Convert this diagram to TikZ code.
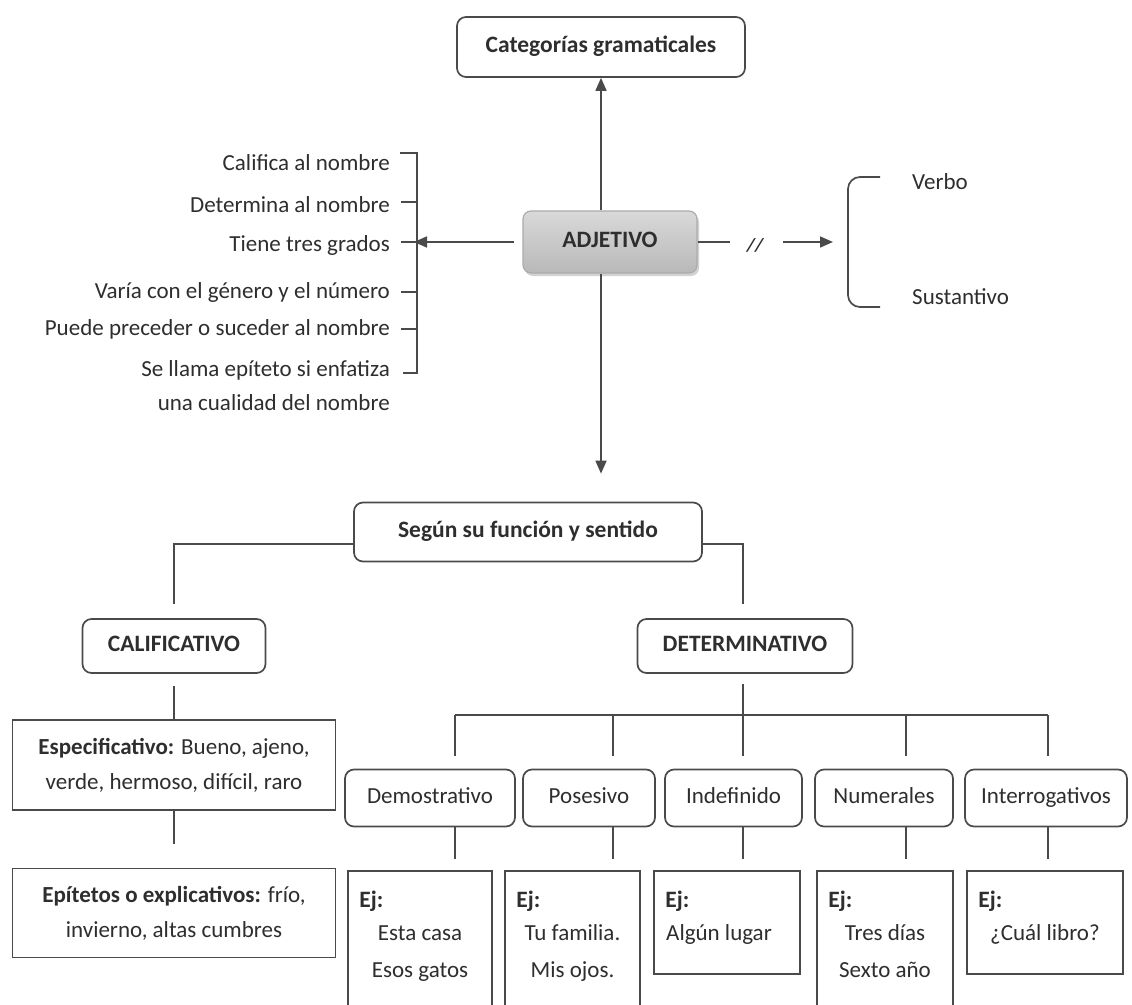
\documentclass[tikz,border=0pt]{standalone}
\usepackage{fontspec}
\setmainfont{Carlito}
\usetikzlibrary{arrows.meta,shadows,calc}
\definecolor{ln}{HTML}{4a4a4a}
\definecolor{tx}{HTML}{2e2e2e}
\tikzset{
  base/.style={text=tx, inner sep=0pt, text height=15pt, text depth=4pt, font=\fontsize{23}{27}\selectfont},
  rbox/.style={base, draw=ln, line width=1.7pt, rounded corners=9pt},
  sbox/.style={base, draw=ln, line width=1.7pt},
  con/.style={draw=ln, line width=1.7pt},
  arr/.style={con, -{Triangle[length=13pt,width=11pt]}},
  lt/.style={base},
  bt/.style={base, font=\fontsize{23.5}{27}\selectfont\bfseries},
  tb/.style={font=\fontsize{23.5}{27}\selectfont\bfseries},
}
\begin{document}
\begin{tikzpicture}[x=1pt,y=-1pt]
\useasboundingbox (0,0) rectangle (1132,1004);
\fill[white] (0,0) rectangle (1132,1004);
\begin{scope}
\clip (0,0) rectangle (1132,1004);

% top nodes
\node[rbox, tb, minimum width=288pt, minimum height=60pt] (cat) at (601,47) {Categorías gramaticales};
\node[base, tb, draw=gray!65, line width=1.2pt, rounded corners=8pt, minimum width=174pt, minimum height=62pt,
      top color=gray!30, middle color=gray!4, bottom color=gray!55,
      drop shadow={shadow xshift=2pt, shadow yshift=-3pt, opacity=0.35}] (adj) at (610,242) {ADJETIVO};
\node[rbox, tb, minimum width=348pt, minimum height=59pt] (seg) at (528,532) {Según su función y sentido};

% arrows up and down
\draw[arr] (adj.north -| cat.south) -- (cat.south);
\draw[arr, shorten >=28pt] (adj.south -| cat.south) -- (cat.south |- seg.north);

% left list
\node[lt, anchor=east] (l1) at (390,165) {Califica al nombre};
\node[lt, anchor=east] (l2) at (390,207) {Determina al nombre};
\node[lt, anchor=east] (l3) at (390,246) {Tiene tres grados};
\node[lt, anchor=east] (l4) at (390,293) {Varía con el género y el número};
\node[lt, anchor=east] (l5) at (390,330) {Puede preceder o suceder al nombre};
\node[lt, anchor=east] (l6) at (390,371) {Se llama epíteto si enfatiza};
\node[lt, anchor=east] (l7) at (390,405) {una cualidad del nombre};
\coordinate (lbt) at (417,153);
\coordinate (lbb) at (417,373);
\coordinate (lb) at (417,242);
\draw[con] (400,153) -- (lbt) -- (lbb) -- (403,373);
\draw[con] (401,202) -- (417,202);
\draw[con] (401,242) -- (lb);
\draw[con] (401,292) -- (417,292);
\draw[con] (401,329) -- (417,329);
\draw[arr, shorten <=8pt, shorten >=-3pt] (adj.west) -- (lb |- adj.west);

% right side
\node[base, font=\fontsize{19}{20}\selectfont\bfseries\itshape] (sl) at (755,246) {//};
\coordinate (rb) at (848,242);
\draw[con, shorten >=17pt] (adj.east) -- (sl.west |- adj.east);
\draw[arr, shorten <=20pt, shorten >=15pt] (sl.east |- adj.east) -- (rb |- adj.east);
\draw[con, rounded corners=12pt] (880,177) -- (848,177) -- (848,307) -- (880,307);
\node[lt, anchor=west] (verbo) at (912,184) {Verbo};
\node[lt, anchor=west] (sust) at (912,299) {Sustantivo};

% second level
\node[rbox, tb, minimum width=183pt, minimum height=54pt] (cal) at (174,646) {CALIFICATIVO};
\node[rbox, tb, minimum width=215pt, minimum height=54pt] (det) at (745,646) {DETERMINATIVO};
\draw[con] ([yshift=-12pt]seg.west) -| ([yshift=14pt]cal.north);
\draw[con] ([yshift=-12pt]seg.east) -| ([yshift=14pt,xshift=-2pt]det.north);

% calificativo branch
\node[sbox, minimum width=323pt, minimum height=90pt, align=center, text height=, text depth=, font=\fontsize{23}{35}\selectfont] (esp) at (174,765)
  {\textbf{Especificativo:} Bueno, ajeno,\\verde, hermoso, difícil, raro};
\node[sbox, minimum width=323pt, minimum height=89pt, align=center, text height=, text depth=, font=\fontsize{23}{35}\selectfont] (epi) at (174,913)
  {\textbf{Epítetos o explicativos:} frío,\\invierno, altas cumbres};
\draw[con, shorten <=12pt] (cal.south) -- (esp.north);
\draw[con, shorten >=24pt] (esp.south) -- (epi.north);

% determinativo branch
\coordinate (b1) at (455,715);
\coordinate (b2) at (613,715);
\coordinate (b3) at (743,715);
\coordinate (b4) at (906,715);
\coordinate (b5) at (1048,715);
\draw[con, shorten <=10pt] (b3 |- det.south) -- (b3);
\draw[con] (b1) -- (b5);

\node[rbox, minimum width=170pt, minimum height=57pt] (dem) at (430,798) {Demostrativo};
\node[rbox, minimum width=132pt, minimum height=57pt] (pos) at (589,798) {Posesivo};
\node[rbox, minimum width=137pt, minimum height=57pt] (ind) at (733.5,798) {Indefinido};
\node[rbox, minimum width=138pt, minimum height=57pt] (num) at (884,798) {Numerales};
\node[rbox, minimum width=162pt, minimum height=57pt] (int) at (1046,798) {Interrogativos};

\node[sbox, minimum width=144pt, minimum height=150pt, anchor=north] (ejdem) at (420,870) {};
\node[sbox, minimum width=135pt, minimum height=150pt, anchor=north] (ejpos) at (572.5,870) {};
\node[sbox, minimum width=146pt, minimum height=103pt, anchor=north] (ejind) at (727,870) {};
\node[sbox, minimum width=136pt, minimum height=150pt, anchor=north] (ejnum) at (885,870) {};
\node[sbox, minimum width=156pt, minimum height=103pt, anchor=north] (ejint) at (1045,870) {};

\foreach \b/\s/\e in {b1/dem/ejdem, b2/pos/ejpos, b3/ind/ejind, b4/num/ejnum, b5/int/ejint}{
  \draw[con, shorten >=13pt] (\b) -- (\b |- \s.north);
  \draw[con, shorten >=11pt] (\b |- \s.south) -- (\b |- \e.north);
  \node[bt, anchor=west] at ($(\e.north west)+(12,32)$) {Ej:};
}

\node[lt] at ($(ejdem.north)+(0,65)$) {Esta casa};
\node[lt] at ($(ejdem.north)+(0,102)$) {Esos gatos};
\node[lt] at ($(ejpos.north)+(0,65)$) {Tu familia.};
\node[lt] at ($(ejpos.north)+(0,102)$) {Mis ojos.};
\node[lt] at ($(ejind.north)+(-8,65)$) {Algún lugar};
\node[lt] at ($(ejnum.north)+(0,65)$) {Tres días};
\node[lt] at ($(ejnum.north)+(0,102)$) {Sexto año};
\node[lt] at ($(ejint.north)+(0,65)$) {¿Cuál libro?};
\end{scope}
\end{tikzpicture}
\end{document}
